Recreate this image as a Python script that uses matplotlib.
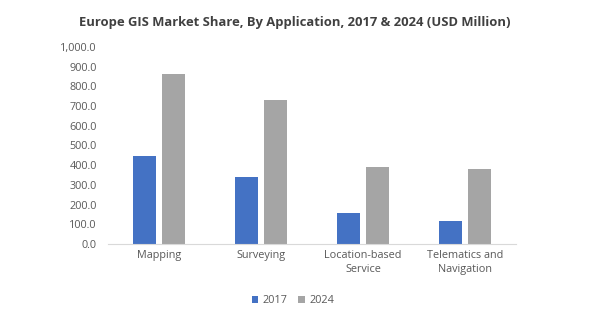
import numpy as np
import matplotlib.pyplot as plt

categories = ["Mapping", "Surveying", "Location-based\nService", "Telematics and\nNavigation"]
values_2017 = [447, 340, 157, 117]
values_2024 = [863, 731, 391, 381]
yticks = [0, 100, 200, 300, 400, 500, 600, 700, 800, 900, 1000]

plt.rcParams['font.family'] = ['Open Sans', 'DejaVu Sans']

fig = plt.figure(figsize=(5.98, 3.23), dpi=100)
ax = fig.add_axes([0.1806, 0.2446, 0.6824, 0.6099])

x = np.arange(len(categories))
w = 0.225
off = 0.145
ax.bar(x - off, values_2017, w, color='#4472C4', label='2017')
ax.bar(x + off, values_2024, w, color='#A5A5A5', label='2024')

ax.set_xlim(-0.5, len(categories) - 0.5)
ax.set_ylim(0, 1000)
ax.set_yticks(yticks)
ax.set_yticklabels([f"{v:,.1f}" for v in yticks], fontsize=7.8, color='#595959')
ax.set_xticks(x)
ax.set_xticklabels(categories, fontsize=7.8, color='#595959', linespacing=1.45)
ax.tick_params(axis='y', length=0, pad=8)
ax.tick_params(axis='x', length=0, pad=4)
for s in ['top', 'right', 'left']:
    ax.spines[s].set_visible(False)
ax.spines['bottom'].set_color('#D9D9D9')

fig.text(0.493, 0.93, "Europe GIS Market Share, By Application, 2017 & 2024 (USD Million)",
         ha='center', va='center', fontsize=9.4, fontweight='bold', color='#404040')

fig.legend(loc='center', bbox_to_anchor=(0.49, 0.07), ncol=2, frameon=False,
           fontsize=7.8, handlelength=0.6, handleheight=0.6, columnspacing=1.0,
           handletextpad=0.4, labelcolor='#595959')

plt.savefig('out.png', dpi=100)
